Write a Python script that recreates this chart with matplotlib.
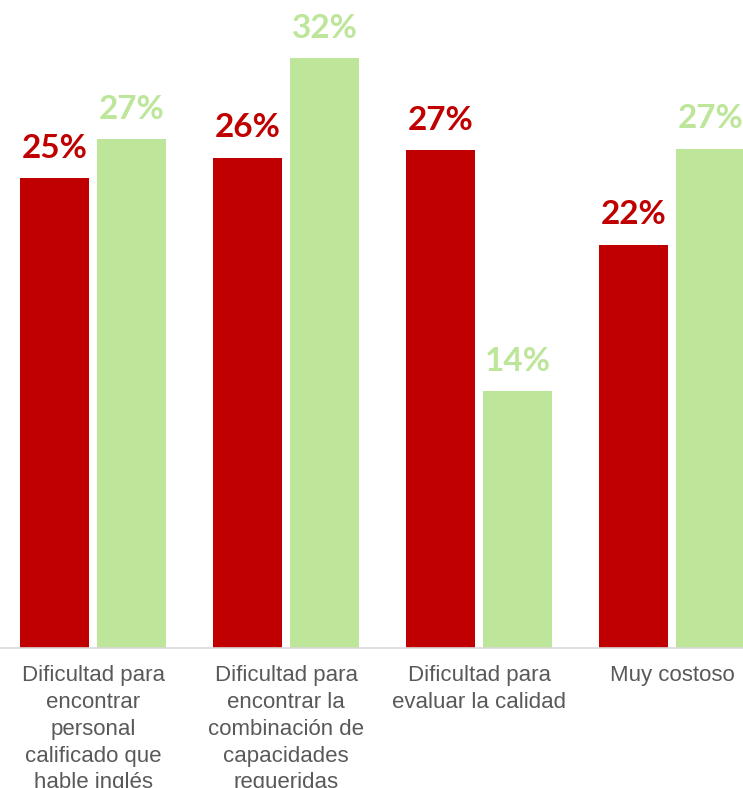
import numpy as np
import matplotlib.pyplot as plt

categories = ['Dificultad para\nencontrar\npersonal\ncalificado que\nhable inglés',
              'Dificultad para\nencontrar la\ncombinación de\ncapacidades\nrequeridas',
              'Dificultad para\nevaluar la calidad',
              'Muy costoso']
red_vals = [25.4, 26.5, 26.9, 21.8]
green_vals = [27.5, 31.9, 13.9, 27.0]
red_labels = ['25%', '26%', '27%', '22%']
green_labels = ['27%', '32%', '14%', '27%']

RED = '#C00000'
GREEN = '#BDE69B'
W, H = 743, 788

fig = plt.figure(figsize=(W / 100, H / 100), dpi=100)
ymax = 35
ax = fig.add_axes([-3.5 / W, 140 / H, 772 / W, ymax * 18.5 / H])

x = np.arange(len(categories))
bw = 0.36
ax.bar(x - 0.2, red_vals, bw, color=RED)
ax.bar(x + 0.2, green_vals, bw, color=GREEN)

for xi, v, lab in zip(x, red_vals, red_labels):
    ax.annotate(lab, (xi - 0.2, v), xytext=(0, 11), textcoords='offset points',
                ha='center', va='bottom', color=RED, fontsize=24,
                fontweight='bold', family='Lato')
for xi, v, lab in zip(x, green_vals, green_labels):
    ax.annotate(lab, (xi + 0.2, v), xytext=(0, 11), textcoords='offset points',
                ha='center', va='bottom', color=GREEN, fontsize=24,
                fontweight='bold', family='Lato')

ax.set_xlim(-0.5, 3.5)
ax.set_ylim(0, ymax)
ax.set_xticks(x)
ax.set_xticklabels(categories, fontsize=16, color='#595959', family='Liberation Sans',
                   linespacing=1.36, va='top')
ax.tick_params(axis='x', length=0, pad=12.5)
ax.set_yticks([])
for s in ['top', 'right', 'left']:
    ax.spines[s].set_visible(False)
ax.spines['bottom'].set_color('#D9D9D9')
ax.spines['bottom'].set_linewidth(1.2)

fig.savefig('out.png', dpi=100)
